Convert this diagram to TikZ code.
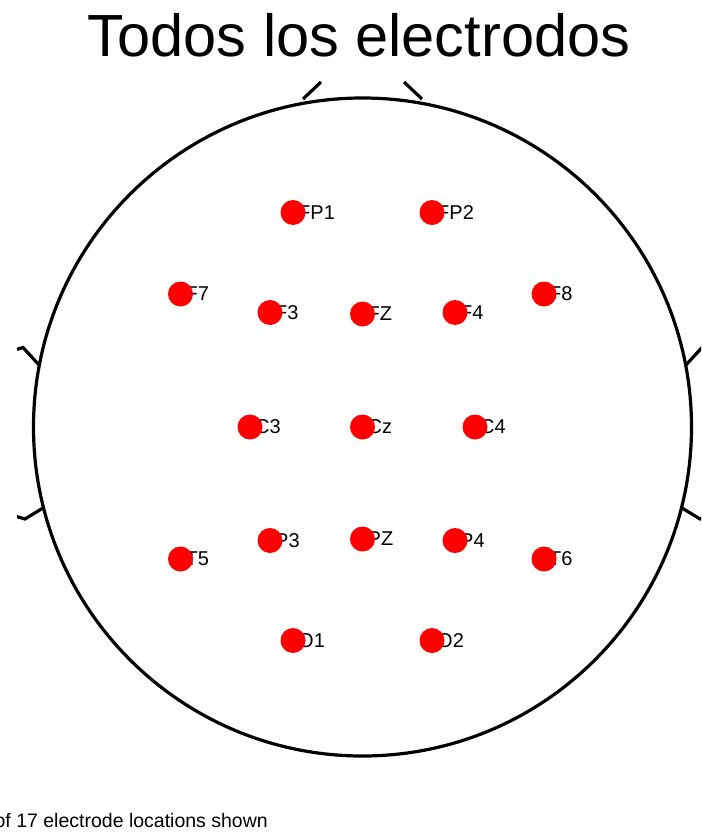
\documentclass[tikz,border=0pt]{standalone}
\usepackage{fontspec}
\setmainfont{Liberation Sans}
\usepackage{tikz}
\usetikzlibrary{positioning,calc}

\tikzset{
  electrodo/.style={circle, fill=red, inner sep=0pt, minimum size=25pt},
  etiqueta/.style={anchor=west, inner sep=0pt, font=\fontsize{20}{24}\selectfont},
  contorno/.style={line width=3.2pt}
}

\begin{document}
\begin{tikzpicture}[x=1pt, y=-1pt]
  \useasboundingbox (0,0) rectangle (701,832);

  % titulo
  \node[anchor=base, inner sep=0pt, font=\fontsize{59.5}{70}\selectfont] (titulo) at (359,57) {Todos los electrodos};

  % cabeza y nariz
  \draw[contorno] (362.5,427) circle[radius=329];
  \draw[contorno] (303,99) -- (321,82);
  \draw[contorno] (404,82) -- (422,99);

  % orejas
  \begin{scope}
    \clip (17,0) rectangle (701,832);
    \draw[contorno] (40,366) -- (23,347.5) -- (8,352) -- (0,400) -- (0,480) -- (8,514) -- (25,519) -- (43,508);
    \draw[contorno] (685,366) -- (702,347.5) -- (717,352) -- (725,400) -- (725,480) -- (717,514) -- (700,519) -- (682,508);
  \end{scope}

  % electrodos
  \foreach \nombre/\x/\y in {FP1/293/212.5, FP2/432/212.5,
      F7/180.5/294, F3/270/312.5, FZ/362.5/314, F4/455/312.5, F8/544/294,
      C3/250/427, Cz/362.5/427, C4/475/427,
      T5/180.5/559, P3/270/540.5, PZ/362.5/539, P4/455/540.5, T6/544/559,
      O1/293/640.5, O2/432/640.5} {
    \node[etiqueta] (l\nombre) at (\x+5,\y) {\nombre};
    \node[electrodo] (e\nombre) at (\x,\y) {};
  }

  % pie
  \node[anchor=base east, inner sep=0pt, font=\fontsize{19.5}{23}\selectfont] (pie) at (268,827) {of 17 electrode locations shown};
\end{tikzpicture}
\end{document}
